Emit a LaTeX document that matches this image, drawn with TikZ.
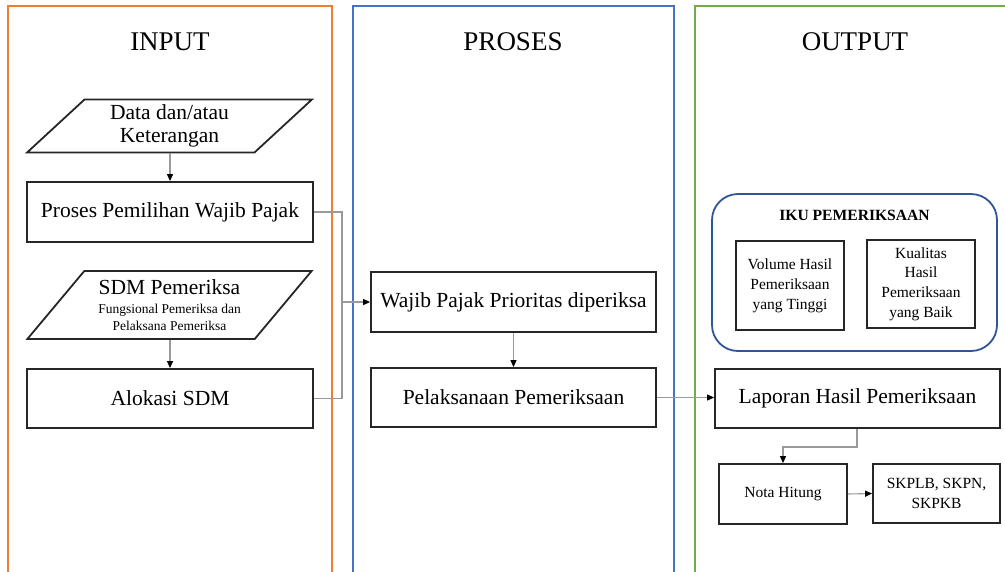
\documentclass[tikz,border=0pt]{standalone}
\usepackage{fontspec}
\setmainfont{Liberation Serif}
\usetikzlibrary{arrows.meta,shapes.geometric}
\definecolor{frOrange}{HTML}{ED7D31}
\definecolor{frBlue}{HTML}{4472C4}
\definecolor{frGreen}{HTML}{70AD47}
\definecolor{ikuBlue}{HTML}{2F5597}
\definecolor{boxLine}{HTML}{262626}
\definecolor{conLine}{HTML}{9A9A9A}
\newcommand{\smalltxt}{\fontsize{13.5}{16}\selectfont}
\begin{document}
\begin{tikzpicture}[x=1pt,y=-1pt,
  frame/.style={line width=1.6pt},
  ttl/.style={font=\fontsize{27}{30}\selectfont},
  bigbox/.style={draw=boxLine,line width=1.8pt,rectangle,inner sep=0pt,
     font=\fontsize{21.5}{24}\selectfont,align=center},
  smallbox/.style={draw=boxLine,line width=1.8pt,rectangle,inner sep=0pt,
     font=\fontsize{15.5}{19.8}\selectfont,align=center},
  para/.style={draw=boxLine,line width=1.8pt,trapezium,trapezium stretches=true,
     trapezium left angle=47,trapezium right angle=133,inner sep=0pt,
     font=\fontsize{21.5}{23.5}\selectfont,align=center},
  con/.style={draw=conLine,line width=1.1pt},
  arr/.style={con,-{Triangle[length=7pt,width=6pt,color=black]}}
]
\useasboundingbox (0,0) rectangle (1005,571);
\begin{scope}
\clip (0,0) rectangle (1005,571);
\draw[frame,frOrange] (8,6) rectangle (332,620);
\draw[frame,frBlue] (353,6) rectangle (674,620);
\draw[frame,frGreen] (695,6) rectangle (1030,620);
\end{scope}

\node[ttl] (tin) at (170,42) {INPUT};
\node[ttl] (tpr) at (513,42) {PROSES};
\node[ttl] (tout) at (855,42) {OUTPUT};

% INPUT column
\node[para,minimum width=285pt,minimum height=53pt] (para1) at (169.5,126)
  {Data dan/atau\\Keterangan};
\node[bigbox,minimum width=286pt,minimum height=60pt] (box1) at (170,212)
  {Proses Pemilihan Wajib Pajak};
\node[para,minimum width=285pt,minimum height=68pt] (para2) at (169.5,305)
  {SDM Pemeriksa\\[-4pt]\smalltxt Fungsional Pemeriksa dan\\[-7pt]\smalltxt Pelaksana Pemeriksa};
\node[bigbox,minimum width=286pt,minimum height=59pt] (box2) at (170,398.5)
  {Alokasi SDM};

% PROSES column
\node[bigbox,minimum width=285pt,minimum height=60pt] (wajib) at (513.5,302)
  {Wajib Pajak Prioritas diperiksa};
\node[bigbox,minimum width=285pt,minimum height=59pt] (pelaks) at (513.5,397.5)
  {Pelaksanaan Pemeriksaan};

% OUTPUT column
\node[draw=ikuBlue,line width=1.8pt,rounded corners=26pt,rectangle,
  minimum width=285pt,minimum height=157pt] (iku) at (854.5,272.5) {};
\node[font=\bfseries\fontsize{15.6}{18}\selectfont] (ikut) at (854.5,215) {IKU PEMERIKSAAN};
\node[smallbox,minimum width=108pt,minimum height=89pt] (vol) at (790,285.5)
  {Volume Hasil\\Pemeriksaan\\yang Tinggi};
\node[smallbox,minimum width=108pt,minimum height=88pt] (kual) at (921,284)
  {Kualitas\\Hasil\\Pemeriksaan\\yang Baik};
\node[bigbox,minimum width=285pt,minimum height=59pt] (lap) at (857.5,398.5)
  {Laporan Hasil Pemeriksaan};
\node[smallbox,minimum width=128pt,minimum height=60pt] (nota) at (783,494)
  {Nota Hitung};
\node[smallbox,minimum width=127pt,minimum height=59pt] (skp) at (936.5,493.5)
  {SKPLB, SKPN,\\SKPKB};

% connectors
\draw[arr] (para1.south -| box1.north) -- (box1.north);
\draw[arr] (para2.south -| box2.north) -- (box2.north);
\coordinate (j) at (342,302);
\draw[con] (box1.east) -| (j);
\draw[con] (box2.east) -| (j);
\draw[arr] (j) -- (wajib.west);
\draw[arr] (wajib.south) -- (pelaks.north);
\draw[arr] (pelaks.east) -- (pelaks.east -| lap.west);
\coordinate (k) at (857,447);
\draw[arr] (lap.south -| k) -- (k) -| (nota.north);
\draw[arr] (nota.east) -- (skp.west);
\end{tikzpicture}
\end{document}
